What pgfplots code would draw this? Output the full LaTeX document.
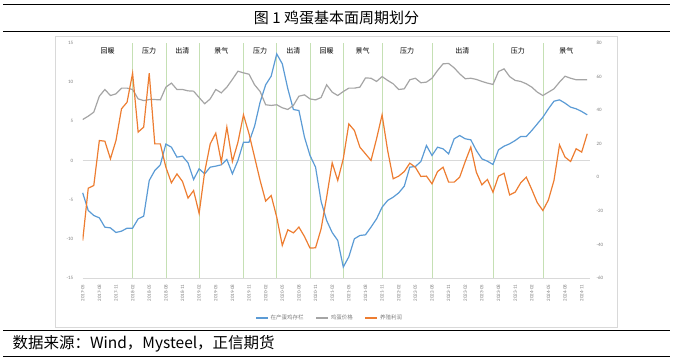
\documentclass[border=0pt]{standalone}
\usepackage{pgfplots}
\pgfplotsset{compat=1.18}
\usepackage{pgfplotstable}
\usepackage{fontspec}
\setmainfont{Carlito}
\newfontfamily\cjk{Noto Sans CJK SC}
\definecolor{sblue}{HTML}{5B9BD5}
\definecolor{sorange}{HTML}{ED7D31}
\definecolor{sgray}{HTML}{A5A5A5}
\definecolor{tickgray}{HTML}{7F7F7F}
\definecolor{gridgray}{HTML}{D9D9D9}
\definecolor{phasegreen}{HTML}{C5E0B4}

\pgfplotstableread{
i stock price profit
0 -4.13 34.4 -37.7
1 -6.38 36.4 -6.5
2 -7.02 38.8 -4.9
3 -7.32 48.3 21.9
4 -8.51 52.3 21.5
5 -8.60 48.7 11.0
6 -9.19 49.7 21.9
7 -9.02 53.1 40.8
8 -8.64 53.1 44.7
9 -8.64 52.3 62.0
10 -7.45 46.7 26.9
11 -7.11 45.7 29.9
12 -2.55 46.3 62.0
13 -1.28 46.3 19.9
14 -0.55 46.1 19.9
15 2.10 53.7 6.0
16 1.70 56.1 -3.3
17 0.43 52.3 2.0
18 0.55 52.3 -2.5
19 -0.30 51.5 -12.4
20 -2.43 51.3 -7.9
21 -1.06 47.5 -21.5
22 -1.70 43.8 3.2
23 -0.85 46.7 19.9
24 -0.72 52.3 26.3
25 -0.55 50.3 9.0
26 0.13 53.7 29.9
27 -1.70 58.3 9.4
28 0.00 63.2 20.9
29 2.34 62.2 37.2
30 2.34 61.4 25.9
31 4.38 55.1 12.0
32 7.45 51.1 -1.9
33 9.66 43.2 -14.2
34 10.77 42.8 -10.9
35 13.60 43.2 -23.8
36 12.34 41.4 -40.6
37 9.15 40.4 -31.3
38 6.51 42.8 -33.1
39 6.38 48.3 -29.7
40 2.98 49.1 -35.3
41 0.64 46.7 -42.2
42 -0.85 46.1 -42.0
43 -5.23 47.5 -30.7
44 -7.66 55.1 -11.8
45 -9.20 50.7 8.6
46 -10.20 48.7 -1.9
47 -13.60 51.1 11.0
48 -12.30 53.1 31.8
49 -10.00 53.1 27.9
50 -9.57 53.7 17.9
51 -9.49 59.2 14.0
52 -8.50 59.0 10.0
53 -7.45 57.1 22.9
54 -5.96 60.0 37.2
55 -5.10 57.7 16.0
56 -4.68 55.7 -0.9
57 -4.13 52.3 0.7
58 -3.28 52.7 3.4
59 -0.85 58.1 8.4
60 -0.77 59.0 6.0
61 -0.13 56.3 0.5
62 1.91 56.7 0.7
63 0.64 59.0 -3.9
64 1.70 63.6 3.4
65 1.49 67.6 6.0
66 0.85 67.8 -2.9
67 2.77 65.2 -2.9
68 3.19 61.6 0.1
69 2.77 58.7 9.4
70 2.64 59.0 18.0
71 1.28 58.3 3.0
72 0.21 57.1 -4.5
73 -0.09 56.1 -1.3
74 -0.51 55.3 -8.9
75 1.36 63.0 0.7
76 1.83 64.6 2.4
77 2.13 60.0 -10.5
78 2.55 57.7 -8.9
79 3.06 57.1 -3.3
80 3.06 55.7 0.1
81 3.83 53.7 -7.3
82 4.68 50.7 -15.2
83 5.53 48.7 -19.8
84 6.60 50.7 -13.5
85 7.57 52.7 -1.9
86 7.74 56.7 19.3
87 7.32 60.2 12.0
88 6.81 59.0 9.4
89 6.60 58.1 17.0
90 6.26 58.1 15.0
91 5.83 58.1 25.9
}\eggdata

\begin{document}
\begin{tikzpicture}
\path (0pt,0pt) rectangle (673pt,361pt);
% title block
\draw[line width=1pt] (3pt,356pt) -- (670pt,356pt);
\node[font=\cjk\fontsize{15}{15}\selectfont] at (336.5pt,343pt) {图 1 鸡蛋基本面周期划分};
\draw[line width=1pt] (3pt,329pt) -- (670pt,329pt);
% chart area border
\draw[gridgray, line width=0.6pt] (55pt,34pt) rectangle (617pt,325pt);
% source block
\draw[line width=1pt] (3pt,30pt) -- (670pt,30pt);
\node[anchor=west, font=\cjk\fontsize{15.5}{16}\selectfont] at (9pt,17pt) {数据来源：Wind，Mysteel，正信期货};
\draw[line width=1pt] (3pt,4pt) -- (670pt,4pt);

\begin{axis}[
  at={(82.7pt,83pt)}, anchor=south west, scale only axis,
  width=507.3pt, height=235pt,
  xmin=0, xmax=91.5, ymin=-15, ymax=15,
  axis x line*=bottom, axis y line*=left,
  x axis line style={gridgray, line width=0.6pt, -},
  y axis line style={draw=none},
  xtick={0,3,...,90},
  xticklabels={2017-05,2017-08,2017-11,2018-02,2018-05,2018-08,2018-11,2019-02,2019-05,2019-08,2019-11,2020-02,2020-05,2020-08,2020-11,2021-02,2021-05,2021-08,2021-11,2022-02,2022-05,2022-08,2022-11,2023-02,2023-05,2023-08,2023-11,2024-02,2024-05,2024-08,2024-11},
  ytick={-15,-10,...,15},
  major tick length=0pt,
  tick label style={font=\fontsize{5}{6}\selectfont, text=tickgray},
  x tick label style={rotate=90, anchor=east},
  xticklabel shift=3pt,
  yticklabel shift=6pt,
  /pgf/number format/assume math mode=true,
  clip=false,
]
\pgfplotsinvokeforeach{9,15,21,29,35,41,47,54,63,74,83}{
  \addplot[phasegreen, line width=0.7pt, forget plot] coordinates {(#1,-15) (#1,15)};
}
\addplot[gridgray, line width=0.6pt, forget plot] coordinates {(0,0) (91.5,0)};
\addplot[sblue, line width=1.2pt] table[x=i, y=stock] {\eggdata};
\node[font=\cjk\fontsize{7}{7}\selectfont] at (axis cs:4.5,14) {回暖};
\node[font=\cjk\fontsize{7}{7}\selectfont] at (axis cs:12,14) {压力};
\node[font=\cjk\fontsize{7}{7}\selectfont] at (axis cs:18,14) {出清};
\node[font=\cjk\fontsize{7}{7}\selectfont] at (axis cs:25,14) {景气};
\node[font=\cjk\fontsize{7}{7}\selectfont] at (axis cs:32,14) {压力};
\node[font=\cjk\fontsize{7}{7}\selectfont] at (axis cs:38,14) {出清};
\node[font=\cjk\fontsize{7}{7}\selectfont] at (axis cs:44,14) {回暖};
\node[font=\cjk\fontsize{7}{7}\selectfont] at (axis cs:50.5,14) {景气};
\node[font=\cjk\fontsize{7}{7}\selectfont] at (axis cs:58.5,14) {压力};
\node[font=\cjk\fontsize{7}{7}\selectfont] at (axis cs:68.5,14) {出清};
\node[font=\cjk\fontsize{7}{7}\selectfont] at (axis cs:78.5,14) {压力};
\node[font=\cjk\fontsize{7}{7}\selectfont] at (axis cs:87.25,14) {景气};
\end{axis}

\begin{axis}[
  at={(82.7pt,83pt)}, anchor=south west, scale only axis,
  width=507.3pt, height=235pt,
  xmin=0, xmax=91.5, ymin=-60, ymax=80,
  axis x line=none, axis y line*=right,
  y axis line style={draw=none},
  ytick={-60,-40,...,80},
  major tick length=0pt,
  tick label style={font=\fontsize{5}{6}\selectfont, text=tickgray},
  yticklabel shift=3pt,
  /pgf/number format/assume math mode=true,
  legend style={at={(0.487,-0.17)}, anchor=center, draw=none, fill=none,
    font=\cjk\fontsize{5.5}{6}\selectfont, text=tickgray,
    /tikz/every even column/.append style={column sep=10pt}},
  legend columns=3,
  legend image code/.code={\draw[#1] (0pt,0pt) -- (12pt,0pt);},
]
\addlegendimage{sblue, line width=1.2pt}
\addlegendentry{在产蛋鸡存栏}
\addplot[sgray, line width=1.2pt] table[x=i, y=price] {\eggdata};
\addlegendentry{鸡蛋价格}
\addplot[sorange, line width=1.2pt] table[x=i, y=profit] {\eggdata};
\addlegendentry{养殖利润}
\end{axis}
\end{tikzpicture}
\end{document}
